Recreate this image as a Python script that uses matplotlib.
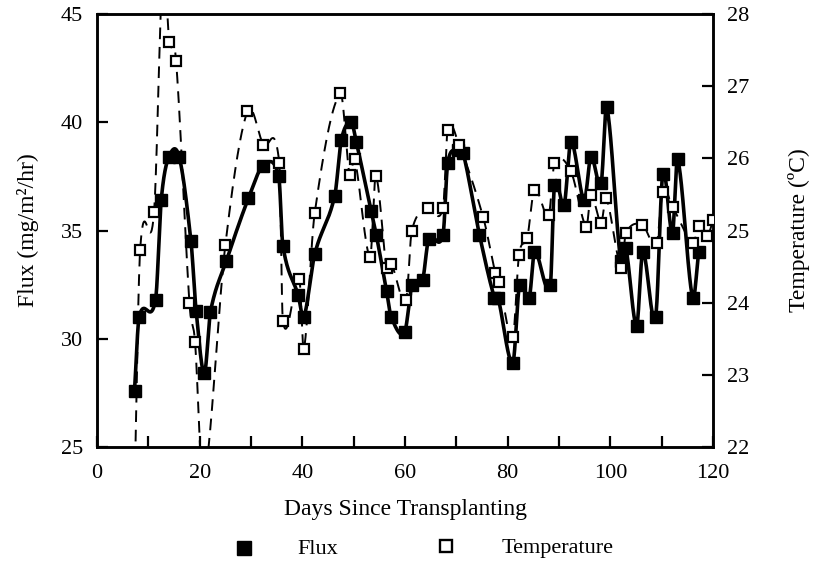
import matplotlib
matplotlib.use("Agg")
import matplotlib.pyplot as plt
from matplotlib.lines import Line2D
import numpy as np

plt.rcParams["font.family"] = ["Liberation Serif", "DejaVu Serif"]

# flux (mg/m2/hr), filled squares
flux_days = [7.3, 8.2, 11.4, 12.5, 14.0, 16.0, 18.3, 19.3, 20.9, 22.1,
             25.2, 29.5, 32.4, 35.4, 36.2, 39.2, 40.3, 42.4, 46.3, 47.6,
             49.5, 50.5, 53.4, 54.4, 56.4, 57.3, 59.9, 61.4, 63.4, 64.6,
             67.4, 68.3, 70.3, 71.3, 74.5, 77.4, 78.1, 81.0, 82.3, 84.2,
             85.2, 88.3, 89.1, 91.0, 92.3, 94.9, 96.2, 98.2, 99.3, 102.0,
             103.0, 105.1, 106.3, 108.8, 110.2, 112.1, 113.1, 116.0, 117.2]
flux_vals = [27.6, 31.0, 31.8, 36.4, 38.4, 38.4, 34.5, 31.3, 28.4, 31.25,
             33.6, 36.5, 38.0, 37.5, 34.3, 32.0, 31.0, 33.9, 36.6, 39.2,
             40.0, 39.1, 35.9, 34.8, 32.2, 31.0, 30.3, 32.5, 32.7, 34.6,
             34.8, 38.1, 38.7, 38.6, 34.8, 31.9, 31.9, 28.9, 32.5, 31.9,
             34.0, 32.5, 37.1, 36.2, 39.1, 36.4, 38.4, 37.2, 40.7, 33.6,
             34.2, 30.6, 34.0, 31.0, 37.6, 34.9, 38.3, 31.9, 34.0]

# temperature (C), open squares; days 7.2, 12.8 and 20.7 lie off the scale
temp_days = [7.2, 8.4, 11.1, 12.8, 14.1, 15.4, 18.0, 19.1, 20.7, 25.0,
             29.3, 32.4, 35.5, 36.2, 39.4, 40.3, 42.4, 47.4, 49.2, 50.2,
             53.2, 54.3, 56.4, 57.3, 60.2, 61.3, 64.5, 67.4, 68.3, 70.5,
             75.2, 77.6, 78.3, 81.0, 82.2, 83.8, 85.2, 88.0, 89.1, 92.3,
             95.3, 96.2, 98.2, 99.2, 102.1, 103.0, 106.2, 109.0, 110.2, 112.1,
             116.1, 117.2, 118.9, 120.0]
temp_vals = [21.0, 24.73, 25.25, 28.6, 27.61, 27.35, 24.0, 23.45, 21.5, 24.8,
             26.65, 26.19, 25.94, 23.74, 24.33, 23.36, 25.24, 26.9, 25.77, 25.99,
             24.63, 25.75, 24.48, 24.54, 24.04, 24.99, 25.31, 25.31, 26.39, 26.19,
             25.19, 24.41, 24.29, 23.53, 24.66, 24.9, 25.56, 25.22, 25.93, 25.82,
             25.05, 25.49, 25.11, 25.45, 24.48, 24.96, 25.08, 24.82, 25.54, 25.33,
             24.82, 25.06, 24.92, 25.15]


def smooth(x, y, n=1500):
    # Catmull-Rom style curve through the points
    x = np.asarray(x, float); y = np.asarray(y, float)
    m = np.gradient(y, x, edge_order=1)
    m[1:-1] = (y[2:] - y[:-2]) / (x[2:] - x[:-2])
    xs = np.linspace(x[0], x[-1], n)
    k = np.clip(np.searchsorted(x, xs) - 1, 0, len(x) - 2)
    h = x[k + 1] - x[k]
    t = (xs - x[k]) / h
    h00 = 2 * t**3 - 3 * t**2 + 1; h10 = t**3 - 2 * t**2 + t
    h01 = -2 * t**3 + 3 * t**2; h11 = t**3 - t**2
    return xs, h00 * y[k] + h10 * h * m[k] + h01 * y[k + 1] + h11 * h * m[k + 1]


fig = plt.figure(figsize=(8.14, 5.62), dpi=100)
ax = fig.add_axes([0.1192, 0.2046, 0.7568, 0.7705])
ax2 = ax.twinx()

fx, fy = smooth(flux_days, flux_vals)
ax.plot(fx, fy, color="black", lw=2.6, zorder=3)
ax.plot(flux_days, flux_vals, ls="none", marker="s", ms=9, mfc="black", mec="black", zorder=4)

tx, ty = smooth(temp_days, temp_vals)
ax2.plot(tx, ty, color="black", lw=1.4, ls=(0, (6, 4)), zorder=2)
ax2.plot(temp_days, temp_vals, ls="none", marker="s", ms=7.5, mfc="white", mec="black", mew=1.6, zorder=3)

ax.set_xlim(0, 120); ax.set_ylim(25, 45)
ax2.set_ylim(22, 28)
ax.set_xticks(np.arange(0, 121, 10))
ax.set_xticklabels([str(v) if v % 20 == 0 else "" for v in range(0, 121, 10)])
ax.set_yticks([25, 30, 35, 40, 45])
ax2.set_yticks(range(22, 29))

for a in (ax, ax2):
    for s in a.spines.values():
        s.set_linewidth(1.8)
    a.tick_params(direction="in", length=8, width=1.6, labelsize=16, pad=10)
ax.tick_params(axis="x", pad=12)

ax.set_xlabel("Days Since Transplanting", fontsize=17, labelpad=12)
ax.set_ylabel("Flux (mg/m²/hr)", fontsize=17, labelpad=16)
ax2.set_ylabel("Temperature (ºC)", fontsize=17, labelpad=28)

# legend row under the axis title
fig.add_artist(Line2D([244 / 814], [1 - 548 / 562], marker="s", ms=9.5, color="black", ls="none"))
fig.text(297 / 814, 1 - 549 / 562, "Flux", fontsize=16, va="center")
fig.add_artist(Line2D([446 / 814], [1 - 546 / 562], marker="s", ms=8.5, mfc="white", mec="black", mew=1.7, ls="none"))
fig.text(502 / 814, 1 - 549 / 562, "Temperature", fontsize=16, va="center")

fig.savefig("out.png", dpi=100)
